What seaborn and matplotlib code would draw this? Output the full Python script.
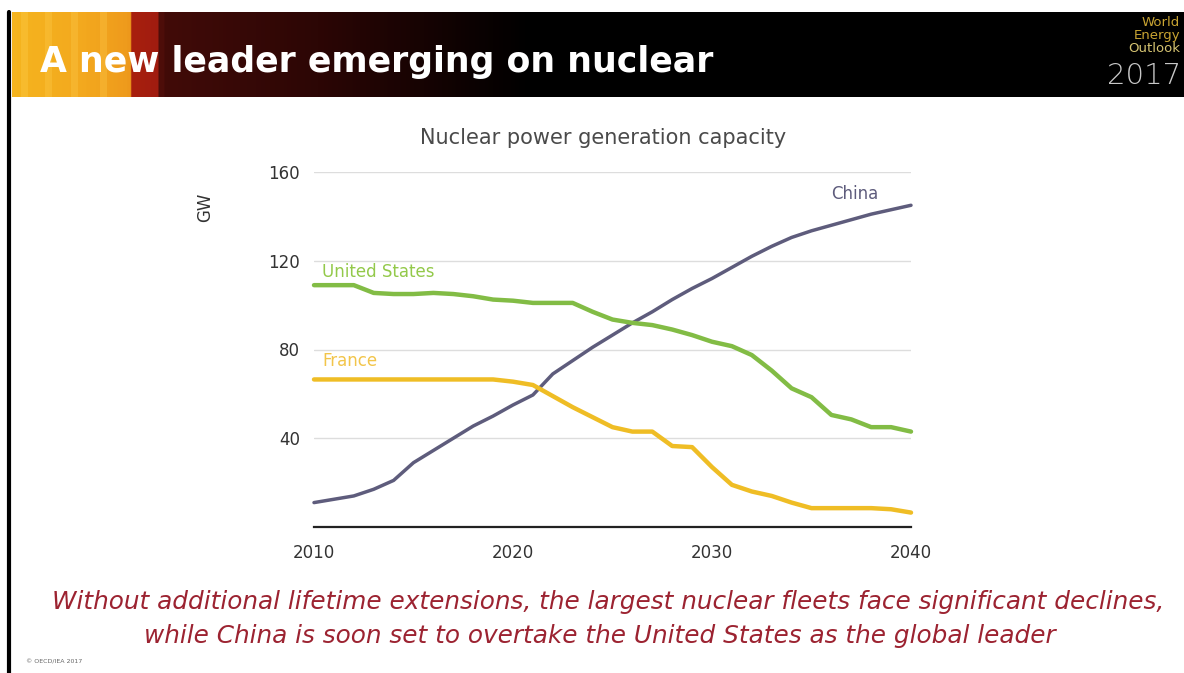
import numpy as np
import pandas as pd
import matplotlib
matplotlib.use("Agg")
import matplotlib.pyplot as plt
import seaborn as sns
from matplotlib.colors import LinearSegmentedColormap

years = list(range(2010, 2041))
china = [11, 12.5, 14, 17, 21, 29, 34.5, 40, 45.5, 50, 55, 59.5, 69, 75, 81, 86.5,
         92, 97, 102.5, 107.5, 112, 117, 122, 126.5, 130.5, 133.5, 136, 138.5, 141, 143, 145]
united_states = [109, 109, 109, 105.5, 105, 105, 105.5, 105, 104, 102.5, 102, 101, 101, 101,
                 97, 93.5, 92, 91, 89, 86.5, 83.5, 81.5, 77.5, 70.5, 62.5, 58.5, 50.5, 48.5,
                 45, 45, 43]
france = [66.5] * 10 + [65.5, 64, 59, 54, 49.5, 45, 43, 43, 36.5, 36, 27, 19, 16, 14, 11,
                        8.5, 8.5, 8.5, 8.5, 8, 6.5]
series_names = ["China", "United States", "France"]
y_ticks = [40, 80, 120, 160]
x_ticks = [2010, 2020, 2030, 2040]

df = pd.DataFrame({
    "year": years * 3,
    "GW": china + united_states + france,
    "country": ["China"] * len(years) + ["United States"] * len(years) + ["France"] * len(years),
})

palette = {"China": "#5e5c7c", "United States": "#82bc45", "France": "#efbd25"}
label_colors = {"China": "#5e5c7c", "United States": "#93c94a", "France": "#f2c54a"}

sns.set_style("white")
plt.rcParams['font.family'] = ['DejaVu Sans']

fig = plt.figure(figsize=(11.84, 6.73), dpi=100)
fig.patch.set_facecolor("white")

# Header bar
W, H = 1184, 673
hdr = fig.add_axes([12 / W, 1 - 97 / H, 1 - 12 / W, 85 / H])
xs = np.linspace(0, 1, 600)
grad = xs[None, :]
cmap = LinearSegmentedColormap.from_list(
    "hdr", [(0, "#f5b41f"), (0.06, "#f3a81e"), (0.098, "#ee9a1c"), (0.101, "#a8200e"),
            (0.122, "#a01c10"), (0.126, "#420b08"), (0.26, "#2c0605"),
            (0.44, "#000000"), (1, "#000000")])
hdr.imshow(grad, aspect="auto", cmap=cmap, extent=[0, 1, 0, 1])
for sx in [0.008, 0.028, 0.05, 0.075]:
    hdr.axvspan(sx, sx + 0.006, color="#ffd050", alpha=0.3, lw=0)
hdr.set_xlim(0, 1)
hdr.set_ylim(0, 1)
hdr.axis("off")
fig.text(40 / W, 1 - 62 / H, "A new leader emerging on nuclear", color="white",
         fontsize=25, fontweight="bold", va="center", ha="left")
fig.text(1180 / W, 1 - 22 / H, "World", color="#c9a432", fontsize=9.5, ha="right", va="center")
fig.text(1180 / W, 1 - 35 / H, "Energy", color="#c9a432", fontsize=9.5, ha="right", va="center")
fig.text(1180 / W, 1 - 48 / H, "Outlook", color="#d6c472", fontsize=9.5, ha="right", va="center")
fig.text(1181 / W, 1 - 76 / H, "2017", color="#c8c8c8", fontsize=21, ha="right", va="center",
         fontweight="light")

# left border line
fig.add_artist(plt.Line2D([9 / W, 9 / W], [0, 1 - 12 / H], color="black", lw=3,
                          transform=fig.transFigure))

# Chart axes
ax = fig.add_axes([314 / W, 1 - 527 / H, (911 - 314) / W, (527 - 172) / H])
sns.lineplot(data=df, x="year", y="GW", hue="country", hue_order=series_names,
             palette=palette, linewidth=3.2, ax=ax, legend=False)
for line in ax.lines:
    line.set_clip_on(False)
ax.lines[0].set_linewidth(2.5)

ax.set_xlim(2010, 2040)
ax.set_ylim(0, 160)
ax.set_xticks(x_ticks)
ax.set_yticks(y_ticks)
ax.tick_params(axis="x", direction="out", length=6, width=1.2, color="#333333",
               labelsize=12, labelcolor="#333333", pad=6)
ax.tick_params(axis="y", length=0, labelsize=12, labelcolor="#333333", pad=10)
ax.grid(axis="y", color="#dddddd", lw=1)
ax.grid(axis="x", visible=False)
for s in ["top", "right", "left"]:
    ax.spines[s].set_visible(False)
ax.spines["bottom"].set_color("#222222")
ax.spines["bottom"].set_linewidth(1.6)
ax.set_xlabel("")
ax.set_ylabel("")
ax.patch.set_alpha(0)

fig.text(205 / W, 1 - 207 / H, "GW", rotation=90, fontsize=12, color="#333333",
         ha="center", va="center")
fig.text(603 / W, 1 - 138 / H, "Nuclear power generation capacity", fontsize=15,
         color="#4a4a4a", ha="center", va="center")

ax.text(2036, 150, "China", color=label_colors["China"], fontsize=12, ha="left", va="center")
ax.text(2010.4, 115, "United States", color=label_colors["United States"], fontsize=12,
        ha="left", va="center")
ax.text(2010.4, 75, "France", color=label_colors["France"], fontsize=12,
        ha="left", va="center")

cap_color = "#9c2331"
fig.text(608 / W, 1 - 602 / H,
         "Without additional lifetime extensions, the largest nuclear fleets face significant declines,",
         fontsize=17.8, style="italic", color=cap_color, ha="center", va="center",
         family=["DejaVu Sans"])
fig.text(600 / W, 1 - 636 / H,
         "while China is soon set to overtake the United States as the global leader",
         fontsize=17.8, style="italic", color=cap_color, ha="center", va="center",
         family=["DejaVu Sans"])
fig.text(26 / W, 1 - 662 / H, "© OECD/IEA 2017", fontsize=4.5, color="#666666",
         ha="left", va="center")

fig.savefig("out.png", dpi=100, facecolor="white")
